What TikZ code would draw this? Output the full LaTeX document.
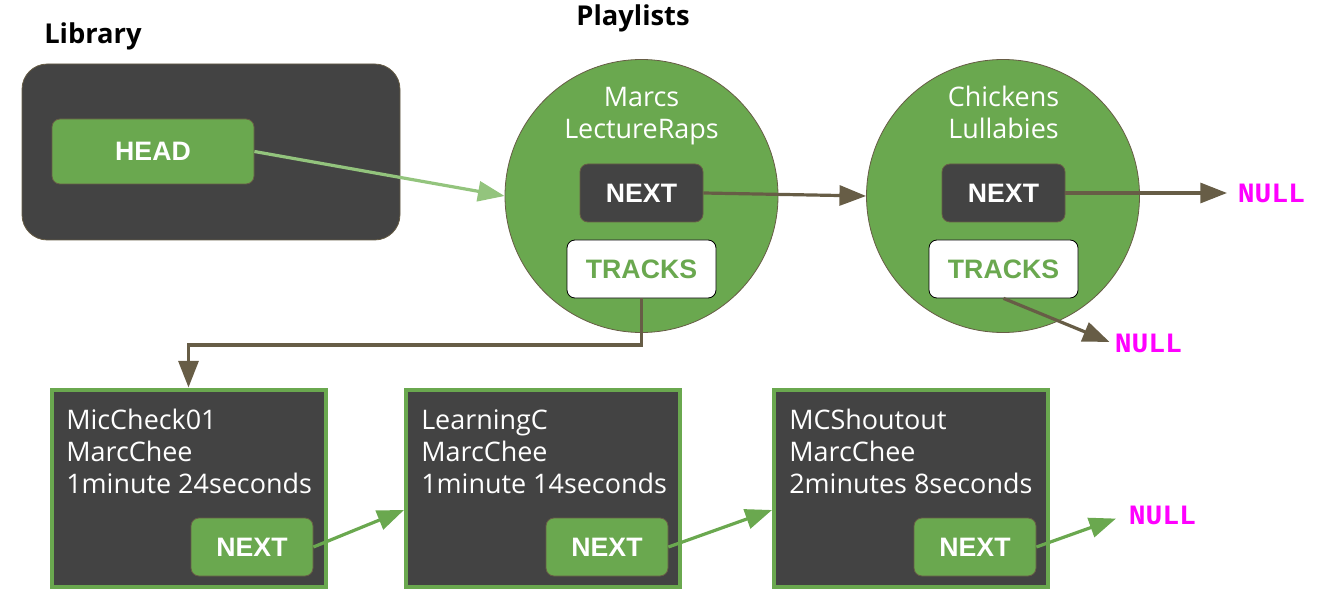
\documentclass[tikz,border=0pt]{standalone}
\usepackage{fontspec}
\setmainfont{Open Sans}
\newfontfamily\arialfont{Liberation Sans}
\newfontfamily\monofont{Liberation Mono}
\usetikzlibrary{arrows.meta}
\definecolor{gr}{HTML}{6AA84F}
\definecolor{lgr}{HTML}{93C47D}
\definecolor{dk}{HTML}{434343}
\definecolor{br}{HTML}{675D46}
\definecolor{mg}{HTML}{FF00FF}
\tikzset{
  title/.style={font=\fontsize{20.5}{24}\selectfont\bfseries, text=black},
  ptr/.style={rounded corners=6pt, draw=br, line width=0.6pt, minimum width=123*0.75pt, minimum height=58*0.75pt, inner sep=0pt, font=\arialfont\fontsize{20}{24}\selectfont\bfseries, text=white},
  darkptr/.style={ptr, fill=dk},
  greenptr/.style={ptr, fill=gr},
  trk/.style={ptr, fill=white, draw=black, minimum width=149*0.75pt, text=gr},
  playlist/.style={circle, fill=gr, draw=br, line width=0.6pt, minimum size=273*0.75pt, inner sep=0pt},
  song/.style={fill=dk, draw=gr, line width=3pt, minimum width=274*0.75pt, minimum height=197*0.75pt, inner sep=0pt},
  body/.style={font=\fontsize{20.2}{24}\selectfont, text=white, align=left, inner sep=0pt},
  nulltxt/.style={font=\monofont\fontsize{21}{24}\selectfont\bfseries, text=mg, inner sep=2pt},
  link/.style={line width=2.4pt, -{Triangle[length=20pt, width=15pt]}},
}
\begin{document}
\begin{tikzpicture}[x=0.75pt, y=-0.75pt]
\useasboundingbox (0,0) rectangle (1325,599);
% Library
\node[title] (libt) at (93,36) {Library};
\node[fill=dk, draw=br, line width=0.6pt, rounded corners=19pt, minimum width=378*0.75pt, minimum height=176*0.75pt] (lib) at (211,152) {};
\node[greenptr, minimum width=202*0.75pt, minimum height=65*0.75pt] (head) at (153,151.5) {HEAD};
% Playlists
\node[title] (plt) at (633,18) {Playlists};
\node[playlist] (c1) at (641.5,196) {};
\node[playlist] (c2) at (1003,196) {};
\node[body, align=center, anchor=base] (c1t) at (641.5,139) {Marcs\\LectureRaps};
\node[body, align=center, anchor=base] (c2t) at (1003.5,139) {Chickens\\Lullabies};
\node[darkptr] (n1) at (641.5,193) {NEXT};
\node[trk] (t1) at (641.5,269) {TRACKS};
\node[darkptr] (n2) at (1003.5,193) {NEXT};
\node[trk] (t2) at (1003.5,269) {TRACKS};
\node[nulltxt, anchor=west] (null1) at (1235,193) {NULL};
\node[nulltxt, anchor=west] (null2) at (1112,343) {NULL};
% Songs
\node[song] (s1) at (188.5,488) {};
\node[song] (s2) at (543,488) {};
\node[song] (s3) at (911,488) {};
\node[body, anchor=base west] (s1t) at (66,493) {MicCheck01\\MarcChee\\1minute 24seconds};
\node[body, anchor=base west] (s2t) at (421,493) {LearningC\\MarcChee\\1minute 14seconds};
\node[body, anchor=base west] (s3t) at (789,493) {MCShoutout\\MarcChee\\2minutes 8seconds};
\node[greenptr, minimum width=122*0.75pt] (sn1) at (252,547) {NEXT};
\node[greenptr, minimum width=122*0.75pt] (sn2) at (607,547) {NEXT};
\node[greenptr, minimum width=122*0.75pt] (sn3) at (975,547) {NEXT};
\node[nulltxt, anchor=west] (null3) at (1126,515) {NULL};
% connectors
\draw[link, lgr] (head.east) -- (c1.west);
\draw[link, br] (n1.east) -- (c2.west);
\draw[link, br, shorten >=6pt] (n2.east) -- (null1.west);
\draw[link, br, shorten >=2pt] (t2.south) -- (null2.west);
\coordinate (bend) at (641.5,345);
\draw[link, br] (t1.south) -- (bend) -| (s1.north);
\draw[link, gr] (sn1.east) -- (s2.189);
\draw[link, gr] (sn2.east) -- (s3.189);
\draw[link, gr, shorten >=8pt] (sn3.east) -- (null3.west);
\end{tikzpicture}
\end{document}
